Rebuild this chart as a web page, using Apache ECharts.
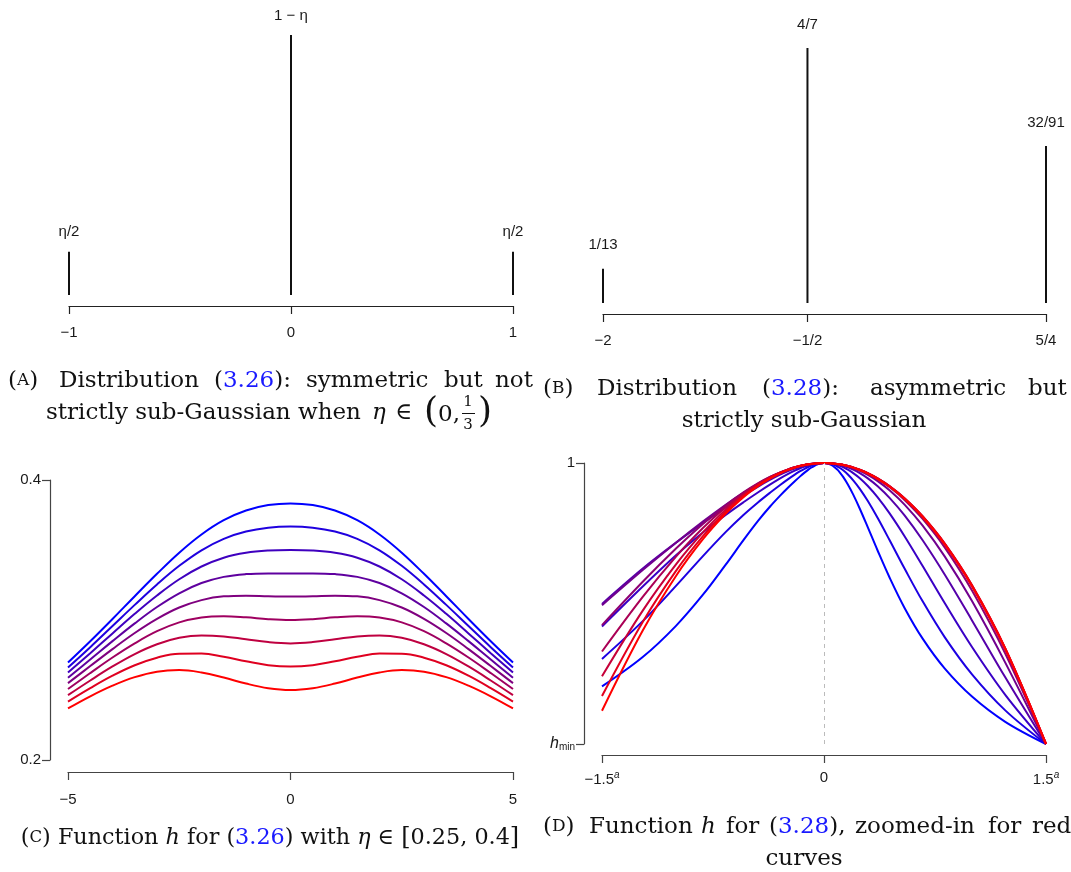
<!DOCTYPE html>
<html>
<head>
<meta charset="utf-8">
<script src="https://cdn.jsdelivr.net/npm/echarts@6/dist/echarts.min.js"></script>
<style>
  html, body { margin: 0; padding: 0; background: #fff; }
  #main { width: 1071px; height: 872px; }
</style>
</head>
<body>
<div id="main"></div>
<script>
// (A) three-point distribution, eta = 0.25
const distAX = [-1, 0, 1];
const distAP = [0.125, 0.75, 0.125];
const distALabels = ['η/2', '1 − η', 'η/2'];
const distATicks = ['−1', '0', '1'];

// (B) asymmetric three-point distribution
const distBX = [-2, -0.5, 1.25];
const distBP = [0.0769, 0.5714, 0.3516];
const distBLabels = ['1/13', '4/7', '32/91'];
const distBTicks = ['−2', '−1/2', '5/4'];

// (C) h for eta in [0.25, 0.4], red (0.25) -> blue
const hCX = [-5, -4.5, -4, -3.5, -3, -2.5, -2, -1.5, -1, -0.5, 0, 0.5, 1, 1.5, 2, 2.5, 3, 3.5, 4, 4.5, 5];
const hCYTicks = ['0.2', '0.4'];
const hCXTicks = ['−5', '0', '5'];
const hCColors = ['#FF0000', '#DF0020', '#BF0040', '#9F0060', '#7F007F', '#5F009F', '#3F00BF', '#1F00DF', '#0000FF'];
const hC1 = [0.2368,0.2455,0.2531,0.2592,0.2631,0.2642,0.2625,0.2589,0.2546,0.2513,0.2500,0.2513,0.2546,0.2589,0.2625,0.2642,0.2631,0.2592,0.2531,0.2455,0.2368];
const hC2 = [0.2417,0.2513,0.2602,0.2677,0.2731,0.2759,0.2760,0.2737,0.2705,0.2677,0.2667,0.2677,0.2705,0.2737,0.2760,0.2759,0.2731,0.2677,0.2602,0.2513,0.2417];
const hC3 = [0.2463,0.2568,0.2668,0.2757,0.2827,0.2873,0.2890,0.2883,0.2862,0.2842,0.2833,0.2842,0.2862,0.2883,0.2890,0.2873,0.2827,0.2757,0.2668,0.2568,0.2463];
const hC4 = [0.2507,0.2621,0.2732,0.2833,0.2920,0.2983,0.3018,0.3027,0.3019,0.3006,0.3000,0.3006,0.3019,0.3027,0.3018,0.2983,0.2920,0.2833,0.2732,0.2621,0.2507];
const hC5 = [0.2549,0.2671,0.2792,0.2907,0.3008,0.3089,0.3142,0.3169,0.3174,0.3170,0.3167,0.3170,0.3174,0.3169,0.3142,0.3089,0.3008,0.2907,0.2792,0.2671,0.2549];
const hC6 = [0.2588,0.2718,0.2849,0.2976,0.3093,0.3191,0.3264,0.3308,0.3328,0.3333,0.3333,0.3333,0.3328,0.3308,0.3264,0.3191,0.3093,0.2976,0.2849,0.2718,0.2588];
const hC7 = [0.2625,0.2763,0.2904,0.3044,0.3175,0.3291,0.3382,0.3445,0.3480,0.3496,0.3500,0.3496,0.3480,0.3445,0.3382,0.3291,0.3175,0.3044,0.2904,0.2763,0.2625];
const hC8 = [0.2661,0.2806,0.2957,0.3108,0.3254,0.3387,0.3498,0.3580,0.3632,0.3659,0.3667,0.3659,0.3632,0.3580,0.3498,0.3387,0.3254,0.3108,0.2957,0.2806,0.2661];
const hC9 = [0.2696,0.2848,0.3007,0.3170,0.3330,0.3481,0.3611,0.3713,0.3782,0.3821,0.3833,0.3821,0.3782,0.3713,0.3611,0.3481,0.3330,0.3170,0.3007,0.2848,0.2696];
const hCCurves = [hC1, hC2, hC3, hC4, hC5, hC6, hC7, hC8, hC9];

// (D) rescaled h on [-1.5^a, 1.5^a], blue (large a) -> red (small a)
const hDX = [-1,-0.8165,-0.6667,-0.5443,-0.4444,-0.3629,-0.2963,-0.2419,-0.1975,-0.1613,-0.1317,-0.1075,-0.0878,
             -0.0717,-0.0585,-0.0390,-0.0260,0,0.0260,0.0390,0.0585,0.0717,
             0.0878,0.1075,0.1317,0.1613,0.1975,0.2419,0.2963,0.3629,0.4444,0.5443,0.6667,0.8165,1];
const hDColors = ['#0000FF', '#1C00E3', '#3900C6', '#5500AA', '#71008E', '#8E0071', '#AA0055', '#C60039', '#E3001C', '#FF0000'];
const hD1 = [0.2048,0.3094,0.4205,0.5321,0.6364,0.7253,0.7948,0.8461,0.8840,0.9127,0.9350,0.9524,0.9657,
             0.9756,0.9830,0.9919,0.9963,1,0.9958,0.9902,0.9776,0.9661,
             0.9489,0.9236,0.8874,0.8372,0.7708,0.6878,0.5907,0.4843,0.3749,0.2682,0.1688,0.0790,0];
const hD2 = [0.3028,0.4372,0.5626,0.6695,0.7531,0.8149,0.8604,0.8949,0.9218,0.9427,0.9588,0.9707,0.9795,
             0.9858,0.9903,0.9955,0.9979,1,0.9978,0.9949,0.9883,0.9822,
             0.9730,0.9592,0.9385,0.9081,0.8645,0.8041,0.7242,0.6244,0.5076,0.3796,0.2479,0.1197,0];
const hD3 = [0.4183,0.5605,0.6717,0.7539,0.8144,0.8603,0.8960,0.9238,0.9452,0.9610,0.9728,0.9812,0.9871,
             0.9912,0.9940,0.9973,0.9988,1,0.9987,0.9970,0.9932,0.9897,
             0.9844,0.9763,0.9641,0.9458,0.9182,0.8778,0.8199,0.7395,0.6333,0.5006,0.3452,0.1751,0];
const hD4 = [0.4986,0.6241,0.7165,0.7867,0.8412,0.8837,0.9162,0.9405,0.9584,0.9712,0.9802,0.9865,0.9908,
             0.9938,0.9958,0.9981,0.9992,1,0.9991,0.9980,0.9955,0.9931,
             0.9896,0.9843,0.9762,0.9638,0.9452,0.9172,0.8751,0.8134,0.7249,0.6022,0.4399,0.2373,0];
const hD5 = [0.4939,0.6191,0.7164,0.7923,0.8504,0.8938,0.9258,0.9486,0.9647,0.9759,0.9837,0.9890,0.9925,
             0.9950,0.9966,0.9985,0.9993,1,0.9993,0.9984,0.9964,0.9946,
             0.9919,0.9877,0.9815,0.9719,0.9574,0.9354,0.9022,0.8521,0.7770,0.6668,0.5087,0.2897,0];
const hD6 = [0.4228,0.5772,0.6955,0.7837,0.8489,0.8954,0.9282,0.9510,0.9667,0.9775,0.9848,0.9898,0.9931,
             0.9954,0.9969,0.9986,0.9994,1,0.9994,0.9986,0.9968,0.9952,
             0.9928,0.9891,0.9835,0.9751,0.9623,0.9428,0.9134,0.8686,0.8009,0.6989,0.5461,0.3218,0];
const hD7 = [0.3292,0.5235,0.6670,0.7695,0.8418,0.8920,0.9267,0.9504,0.9666,0.9775,0.9849,0.9899,0.9932,
             0.9955,0.9970,0.9986,0.9994,1,0.9994,0.9986,0.9969,0.9953,
             0.9930,0.9894,0.9840,0.9759,0.9636,0.9451,0.9169,0.8741,0.8091,0.7105,0.5613,0.3367,0];
const hD8 = [0.2410,0.4747,0.6393,0.7539,0.8330,0.8870,0.9238,0.9488,0.9656,0.9769,0.9846,0.9897,0.9931,
             0.9954,0.9969,0.9986,0.9994,1,0.9994,0.9986,0.9969,0.9953,
             0.9929,0.9893,0.9840,0.9758,0.9636,0.9451,0.9171,0.8748,0.8105,0.7130,0.5649,0.3401,0];
const hD9 = [0.1711,0.4345,0.6161,0.7404,0.8250,0.8823,0.9209,0.9470,0.9645,0.9762,0.9841,0.9894,0.9929,
             0.9953,0.9968,0.9986,0.9994,1,0.9994,0.9986,0.9968,0.9952,
             0.9928,0.9892,0.9837,0.9755,0.9631,0.9445,0.9164,0.8738,0.8095,0.7122,0.5645,0.3403,0];
const hD10 = [0.1185,0.4039,0.5981,0.7297,0.8185,0.8783,0.9185,0.9455,0.9635,0.9756,0.9837,0.9891,0.9927,
              0.9951,0.9968,0.9986,0.9994,1,0.9994,0.9986,0.9968,0.9951,
              0.9927,0.9890,0.9834,0.9751,0.9626,0.9438,0.9154,0.8725,0.8079,0.7103,0.5627,0.3391,0];
const hDCurves = [hD1, hD2, hD3, hD4, hD5, hD6, hD7, hD8, hD9, hD10];
const hDXTicks = ['{n|−1.5}{s|a}', '{n|0}', '{n|1.5}{s|a}'];
const hDYTicks = ['{h|h}{m|min}', '{n|1}'];

const sans = 'Liberation Sans, Arial, sans-serif';
const serif = 'DejaVu Serif, serif';
const ink = '#1a1a1a';
const linkBlue = '#1a1aff';

function axisParts(color) {
  return {
    axisLine: { show: true, onZero: false, lineStyle: { color: color, width: 1.2 } },
    axisTick: { show: true, inside: false, length: 8, lineStyle: { color: color, width: 1.2 } },
    splitLine: { show: false }
  };
}
const tickFont = { fontSize: 15, color: ink, fontFamily: sans };

const chart = echarts.init(document.getElementById('main'));

const series = [];
series.push({
  type: 'bar', xAxisIndex: 0, yAxisIndex: 0, clip: false, barWidth: 2,
  itemStyle: { color: '#111' },
  data: distAX.map((x, i) => [x, distAP[i]]),
  label: { show: true, position: 'top', distance: 12, formatter: p => distALabels[p.dataIndex], ...tickFont }
});
series.push({
  type: 'bar', xAxisIndex: 1, yAxisIndex: 1, clip: false, barWidth: 2,
  itemStyle: { color: '#111' },
  data: distBX.map((x, i) => [x, distBP[i]]),
  label: { show: true, position: 'top', distance: 16, formatter: p => distBLabels[p.dataIndex], ...tickFont }
});
hCCurves.forEach((ys, i) => {
  series.push({
    type: 'line', xAxisIndex: 2, yAxisIndex: 2, smooth: 0.4, symbol: 'none',
    lineStyle: { color: hCColors[i], width: 2 },
    data: hCX.map((x, j) => [x, ys[j]])
  });
});
hDCurves.forEach((ys, i) => {
  const s = {
    type: 'line', xAxisIndex: 3, yAxisIndex: 3, smooth: 0.35, symbol: 'none',
    lineStyle: { color: hDColors[i], width: 2 },
    data: hDX.map((x, j) => [x, ys[j]])
  };
  if (i === 0) {
    s.markLine = {
      silent: true, symbol: ['none', 'none'], label: { show: false },
      lineStyle: { color: '#bbb', type: [4, 4], width: 1 },
      data: [{ xAxis: 0 }]
    };
  }
  series.push(s);
});

// caption helpers
const capRich = {
  n: { fontFamily: serif, fontSize: 23, fill: '#111' },
  sc: { fontFamily: serif, fontSize: 17, fill: '#111' },
  i: { fontFamily: serif, fontSize: 23, fontStyle: 'italic', fill: '#111' },
  r: { fontFamily: serif, fontSize: 23, fill: linkBlue },
  big: { fontFamily: serif, fontSize: 24, fill: '#111' }
};
const capRichC = {
  n: { fontFamily: serif, fontSize: 22.3, fill: '#111' },
  sc: { fontFamily: serif, fontSize: 16.5, fill: '#111' },
  i: { fontFamily: serif, fontSize: 22.3, fontStyle: 'italic', fill: '#111' },
  r: { fontFamily: serif, fontSize: 22.3, fill: linkBlue },
  big: { fontFamily: serif, fontSize: 24, fill: '#111' }
};
function cap(x, y, text, align, size, rich) {
  return {
    type: 'text', x: x, y: y, silent: true,
    style: { text: text, fill: '#111', fontFamily: serif, fontSize: size || 23,
      align: align || 'left', verticalAlign: 'middle', rich: rich || capRich }
  };
}
const graphics = [
  // (A)
  cap(8, 381, '{n|(}{sc|A}{n|)}'),
  cap(59, 381, 'Distribution'),
  cap(214, 381, '{n|(}{r|3.26}{n|):}'),
  cap(306, 381, 'symmetric'),
  cap(444, 381, 'but'),
  cap(495, 381, 'not'),
  cap(46, 413, 'strictly sub-Gaussian when'),
  cap(372, 413, '{i|η}'),
  cap(395, 413, '∈'),
  cap(424, 413, '(', 'left', 36),
  cap(438, 415, '0,'),
  cap(468, 402, '1', 'center', 15),
  cap(468, 425, '3', 'center', 15),
  { type: 'line', silent: true, shape: { x1: 462, y1: 413.5, x2: 475, y2: 413.5 }, style: { stroke: '#111', lineWidth: 1 } },
  cap(478, 413, ')', 'left', 36),
  // (B)
  cap(543, 389, '{n|(}{sc|B}{n|)}'),
  cap(597, 389, 'Distribution'),
  cap(762, 389, '{n|(}{r|3.28}{n|):}'),
  cap(870, 389, 'asymmetric'),
  cap(1028, 389, 'but'),
  cap(804, 421, 'strictly sub-Gaussian', 'center'),
  // (C)
  cap(270, 838, '{n|(}{sc|C}{n|) Function }{i|h}{n| for (}{r|3.26}{n|) with }{i|η}{n| ∈ }{big|[}{n|0.25, 0.4}{big|]}', 'center', 22.3, capRichC),
  // (D)
  cap(543, 827, '{n|(}{sc|D}{n|)}'),
  cap(589, 827, 'Function'),
  cap(701, 827, '{i|h}'),
  cap(726, 827, 'for'),
  cap(769, 827, '{n|(}{r|3.28}{n|),}'),
  cap(855, 827, 'zoomed-in'),
  cap(988, 827, 'for'),
  cap(1032, 827, 'red'),
  cap(804, 859, 'curves', 'center')
];

const option = {
  animation: false,
  backgroundColor: '#fff',
  grid: [
    { left: 69, top: 35, width: 444, height: 260 },
    { left: 603, top: 48, width: 443, height: 255 },
    { left: 68, top: 480, width: 445, height: 280 },
    { left: 602, top: 463, width: 444, height: 281 }
  ],
  xAxis: [
    { gridIndex: 0, type: 'value', min: -1, max: 1, interval: 1, offset: 11, ...axisParts('#222'),
      axisLabel: { margin: 19, ...tickFont, formatter: v => distATicks[distAX.indexOf(v)] } },
    { gridIndex: 1, type: 'value', min: -2, max: 1.25, offset: 11, ...axisParts('#222'),
      axisTick: { show: true, length: 8, customValues: distBX, lineStyle: { color: '#222', width: 1.2 } },
      axisLabel: { margin: 19, ...tickFont, customValues: distBX, formatter: v => distBTicks[distBX.indexOf(v)] } },
    { gridIndex: 2, type: 'value', min: -5, max: 5, interval: 5, offset: 12, ...axisParts('#444'),
      axisLabel: { margin: 20, ...tickFont, formatter: v => hCXTicks[(v + 5) / 5] } },
    { gridIndex: 3, type: 'value', min: -1, max: 1, interval: 1, offset: 11, ...axisParts('#444'),
      axisLabel: { margin: 15, formatter: v => hDXTicks[v + 1],
        rich: {
          n: { fontSize: 15, color: ink, fontFamily: sans },
          s: { fontSize: 10, color: ink, fontFamily: sans, fontStyle: 'italic', padding: [0, 0, 10, 0] }
        } } }
  ],
  yAxis: [
    { gridIndex: 0, type: 'value', min: 0, max: 0.75, show: false, splitLine: { show: false } },
    { gridIndex: 1, type: 'value', min: 0, max: 0.5714, show: false, splitLine: { show: false } },
    { gridIndex: 2, type: 'value', min: 0.2, max: 0.4, interval: 0.2, offset: 18, ...axisParts('#444'),
      axisLabel: { margin: 9, ...tickFont, formatter: v => (v < 0.3 ? hCYTicks[0] : hCYTicks[1]) } },
    { gridIndex: 3, type: 'value', min: 0, max: 1, interval: 1, offset: 18, ...axisParts('#444'),
      axisLabel: { margin: 9, formatter: v => hDYTicks[v],
        rich: {
          n: { fontSize: 15, color: ink, fontFamily: sans },
          h: { fontSize: 16, color: ink, fontFamily: sans, fontStyle: 'italic' },
          m: { fontSize: 10, color: ink, fontFamily: sans, padding: [7, 0, 0, 0] }
        } } }
  ],
  series: series,
  graphic: graphics
};
chart.setOption(option);
</script>
</body>
</html>
